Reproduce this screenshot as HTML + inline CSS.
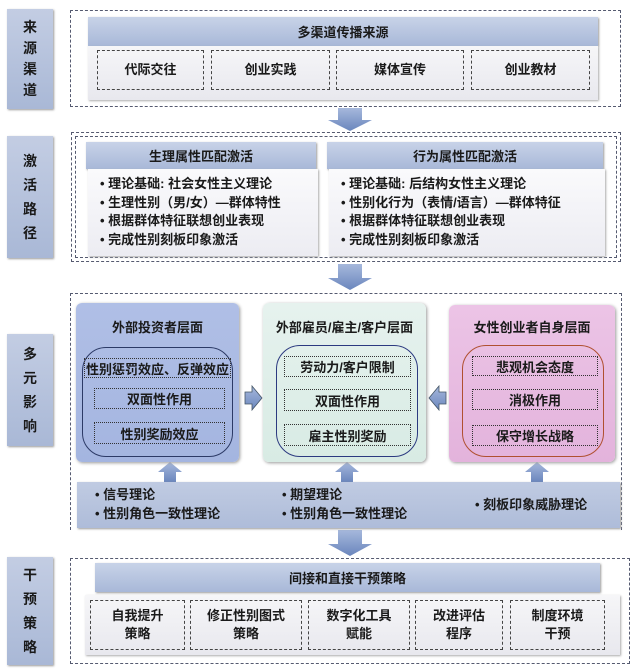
<!DOCTYPE html>
<html><head><meta charset="utf-8"><style>
*{margin:0;padding:0;box-sizing:border-box}
body{width:630px;height:669px;background:#fff;position:relative;overflow:hidden;font-family:"Liberation Sans","Noto Sans CJK SC",sans-serif;font-weight:bold;color:#1a1a1a}
div{position:absolute}
.lab{left:7px;width:46px;background:linear-gradient(#c3cde3,#a9b8d6);box-shadow:1px 1px 2px #999;display:flex;flex-direction:column;align-items:center;justify-content:center;font-size:14px;line-height:24px}
.dash{border:1.3px dashed #555a70}
.hdr{background:linear-gradient(#c8d3e8,#a8b8d8);box-shadow:1px 1px 2px #999;display:flex;align-items:center;justify-content:center;font-size:13px}
.row{background:linear-gradient(#f6f6f8,#e8e8ee);box-shadow:1px 1px 2px #aaa}
.it{border:1.3px dashed #444;display:flex;align-items:center;justify-content:center;text-align:center;font-size:13px;line-height:18px}
.body{background:linear-gradient(#fafafc,#ececf2);box-shadow:1px 1px 2px #aaa;font-size:13px;line-height:18.5px;padding:6px 0 0 12px}
.pan{border-radius:6px;box-shadow:1px 1px 3px #999}
.rr{border:1.2px solid;border-radius:24px}
.db{border:1.2px dotted #333;display:flex;align-items:center;justify-content:center;font-size:13px}
.t{text-align:center;width:100%;font-size:13px}
</style></head><body>

<!-- section 1 -->
<div class="lab" style="top:9px;height:100px;line-height:21px"><span>来</span><span>源</span><span>渠</span><span>道</span></div>
<div class="dash" style="left:70px;top:10px;width:551px;height:97px"></div>
<div class="hdr" style="left:88px;top:17px;width:510px;height:29px">多渠道传播来源</div>
<div class="row" style="left:88px;top:46px;width:510px;height:54px"></div>
<div class="it" style="left:97px;top:50px;width:107px;height:40px">代际交往</div>
<div class="it" style="left:211px;top:50px;width:119px;height:40px">创业实践</div>
<div class="it" style="left:336px;top:50px;width:128px;height:40px">媒体宣传</div>
<div class="it" style="left:471px;top:50px;width:119px;height:40px">创业教材</div>

<svg style="position:absolute;left:0;top:0" width="630" height="669">
<defs><linearGradient id="ag" x1="0" y1="0" x2="0" y2="1"><stop offset="0" stop-color="#a6b8dc"/><stop offset="1" stop-color="#6a86bd"/></linearGradient></defs>
<g fill="url(#ag)">
<polygon points="338,108 362,108 362,120 372,120 350,131 328,120 338,120"/>
<polygon points="338,264 362,264 362,278 372,278 350,290 328,278 338,278"/>
<polygon points="338,530 362,530 362,544 372,544 350,556 328,544 338,544"/>
<polygon points="245,392 252,392 252,386 262,398 252,410 252,404 245,404" stroke="#456" stroke-width=".8"/>
<polygon points="446,392 439,392 439,386 429,398 439,410 439,404 446,404" stroke="#456" stroke-width=".8"/>
<polygon points="164,482 176,482 176,472 182,472 170,462 158,472 164,472"/>
<polygon points="341,482 353,482 353,472 359,472 347,462 335,472 341,472"/>
<polygon points="531,482 543,482 543,472 549,472 537,462 525,472 531,472"/>
</g>
<g stroke="#222" stroke-width="1" fill="#222">
<line x1="158" y1="380" x2="158" y2="386"/><polygon points="155,381 161,381 158,376"/>
<line x1="158" y1="411" x2="158" y2="418"/><polygon points="155,417 161,417 158,422"/>
<line x1="347" y1="380" x2="347" y2="386"/><polygon points="344,381 350,381 347,376"/>
<line x1="347" y1="412" x2="347" y2="419"/><polygon points="344,418 350,418 347,423"/>
<line x1="535" y1="380" x2="535" y2="386"/><polygon points="532,381 538,381 535,376"/>
<line x1="535" y1="412" x2="535" y2="419"/><polygon points="532,418 538,418 535,423"/>
</g>
</svg>

<!-- section 2 -->
<div class="lab" style="top:136px;height:122px"><span>激</span><span>活</span><span>路</span><span>径</span></div>
<div class="dash" style="left:71px;top:132px;width:550px;height:130px"></div>
<div class="dash" style="left:75px;top:136px;width:542px;height:122px"></div>
<div class="hdr" style="left:86px;top:142px;width:230px;height:27px">生理属性匹配激活</div>
<div class="hdr" style="left:327px;top:142px;width:276px;height:27px">行为属性匹配激活</div>
<div class="body" style="left:88px;top:169px;width:230px;height:87px">• 理论基础: 社会女性主义理论<br>• 生理性别（男/女）—群体特性<br>• 根据群体特征联想创业表现<br>• 完成性别刻板印象激活</div>
<div class="body" style="left:329px;top:169px;width:276px;height:87px">• 理论基础: 后结构女性主义理论<br>• 性别化行为（表情/语言）—群体特征<br>• 根据群体特征联想创业表现<br>• 完成性别刻板印象激活</div>

<!-- section 3 -->
<div class="lab" style="top:334px;height:112px"><span>多</span><span>元</span><span>影</span><span>响</span></div>
<div class="dash" style="left:70px;top:293px;width:552px;height:237px;border-bottom:none"></div>
<div class="pan" style="left:76px;top:303px;width:163px;height:159px;background:linear-gradient(#b0bfe6,#a4b5e0)"><div class="t" style="top:14px">外部投资者层面</div></div>
<div class="pan" style="left:263px;top:303px;width:163px;height:159px;background:linear-gradient(#e6f2ee,#d8ebe4)"><div class="t" style="top:14px">外部雇员/雇主/客户层面</div></div>
<div class="pan" style="left:449px;top:305px;width:166px;height:157px;background:linear-gradient(#ecc4e6,#e3b3dc)"><div class="t" style="top:12px">女性创业者自身层面</div></div>
<div class="rr" style="left:82px;top:347px;width:151px;height:110px;border-color:#2c3a66"></div>
<div class="rr" style="left:276px;top:345px;width:142px;height:112px;border-color:#2c3a80"></div>
<div class="rr" style="left:462px;top:345px;width:142px;height:112px;border-color:#b05030"></div>
<div class="db" style="left:84px;top:358px;width:147px;height:20px">性别惩罚效应、反弹效应</div>
<div class="db" style="left:94px;top:388px;width:131px;height:21px">双面性作用</div>
<div class="db" style="left:94px;top:422px;width:131px;height:22px">性别奖励效应</div>
<div class="db" style="left:284px;top:356px;width:127px;height:21px">劳动力/客户限制</div>
<div class="db" style="left:284px;top:389px;width:127px;height:22px">双面性作用</div>
<div class="db" style="left:284px;top:424px;width:127px;height:22px">雇主性别奖励</div>
<div class="db" style="left:472px;top:356px;width:126px;height:20px">悲观机会态度</div>
<div class="db" style="left:472px;top:389px;width:126px;height:21px">消极作用</div>
<div class="db" style="left:472px;top:425px;width:126px;height:21px">保守增长战略</div>
<div style="left:77px;top:482px;width:543px;height:46px;background:linear-gradient(#c0cbe2,#aebcd9);box-shadow:1px 1px 2px #999"></div>
<div style="left:95px;top:485px;font-size:13px;line-height:19px">• 信号理论<br>• 性别角色一致性理论</div>
<div style="left:282px;top:485px;font-size:13px;line-height:19px">• 期望理论<br>• 性别角色一致性理论</div>
<div style="left:475px;top:495px;font-size:13px;line-height:19px">• 刻板印象威胁理论</div>

<!-- section 4 -->
<div class="lab" style="top:557px;height:108px"><span>干</span><span>预</span><span>策</span><span>略</span></div>
<div class="dash" style="left:70px;top:558px;width:560px;height:106px"></div>
<div class="hdr" style="left:95px;top:563px;width:505px;height:29px">间接和直接干预策略</div>
<div class="row" style="left:85px;top:595px;width:535px;height:60px"></div>
<div class="it" style="left:90px;top:600px;width:95px;height:50px">自我提升<br>策略</div>
<div class="it" style="left:190px;top:600px;width:112px;height:50px">修正性别图式<br>策略</div>
<div class="it" style="left:308px;top:600px;width:102px;height:50px">数字化工具<br>赋能</div>
<div class="it" style="left:415px;top:600px;width:88px;height:50px">改进评估<br>程序</div>
<div class="it" style="left:510px;top:600px;width:95px;height:50px">制度环境<br>干预</div>
</body></html>
